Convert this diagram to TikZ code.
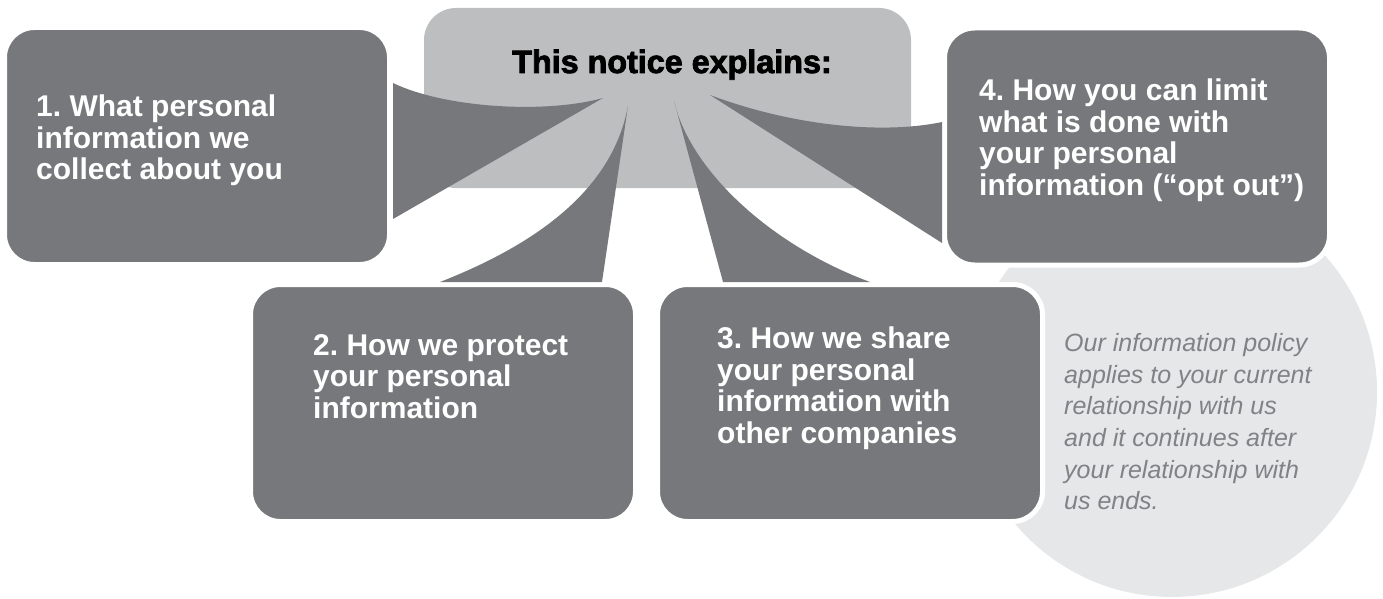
\documentclass[tikz,border=0pt]{standalone}
\usepackage{fontspec}
\setmainfont{Liberation Sans}
\newfontfamily\headfont[BoldFeatures={FakeBold=2.5}]{Liberation Sans}
\usetikzlibrary{calc}
\frenchspacing

\definecolor{boxgray}{HTML}{77787B}
\definecolor{headgray}{HTML}{BCBEC0}
\definecolor{notegray}{HTML}{E6E7E8}
\definecolor{notetext}{HTML}{818285}

\tikzset{
  infobox/.style={rectangle, rounded corners=30pt, fill=boxgray, draw=white,
    line width=5pt, minimum width=385pt, minimum height=237pt, inner sep=0pt},
  headbox/.style={rectangle, rounded corners=32pt, fill=headgray,
    minimum width=487pt, minimum height=180pt, inner sep=0pt},
  notedisc/.style={circle, fill=notegray, minimum size=410pt, inner sep=0pt},
  wedge/.style={fill=boxgray},
  boxtext/.style={font=\fontsize{30}{31.5}\selectfont\bfseries, text=white,
    align=left, inner sep=0pt, anchor=north west},
  notetextstyle/.style={font=\fontsize{25}{31.7}\selectfont\itshape,
    text=notetext, align=left, inner sep=0pt, anchor=north west},
}

\begin{document}
\begin{tikzpicture}[x=1pt, y=-1pt]
  \useasboundingbox (0,0) rectangle (1383,599);

  % background disc for the side note
  \node[notedisc] (note) at (1172,392) {};

  % heading panel
  \node[headbox] (head) at (667.5,98) {};
  \node[font={\headfont\fontsize{32.3}{32}\selectfont\bfseries}, anchor=base,
        inner sep=0pt] (headtext) at (672,73) {This notice explains:};

  % the four topic boxes
  \node[infobox] (box1) at (197,146) {};
  \node[infobox] (box4) at (1137,146.5) {};
  \node[infobox] (box2) at (443,403) {};
  \node[infobox] (box3) at (850,403) {};

  % tips of the fan-shaped connectors inside the heading panel
  \coordinate (tip1) at (603,98);
  \coordinate (tip2) at (628,106);
  \coordinate (tip3) at (674,101);
  \coordinate (tip4) at (710,95);

  % fan-shaped connectors
  \fill[wedge] ($(box1.east)+(1,-63)$) .. controls (445,108) and (545,114) .. (tip1)
     -- ($(box1.east)+(1,73)$) -- cycle;
  \fill[wedge] ($(box2.north)+(159,0)$) -- (tip2)
     .. controls (615,175) and (560,235) .. ($(box2.north)+(-3,0)$) -- cycle;
  \fill[wedge] ($(box3.north)+(-127,0)$) -- (tip3)
     .. controls (690,170) and (770,245) .. ($(box3.north)+(20,0)$) -- cycle;
  \fill[wedge] (tip4) .. controls (790,125) and (880,135) .. ($(box4.west)+(0,-24.5)$)
     -- ($(box4.west)+(0,96.5)$) -- cycle;

  % box texts
  \node[boxtext] (t1) at (36,95) {1. What personal\\information we\\collect about you};
  \node[boxtext] (t2) at (313,334) {2. How we protect\\your personal\\information};
  \node[boxtext] (t3) at (717,327) {3. How we share\\your personal\\information with\\other companies};
  \node[boxtext] (t4) at (979,79) {4. How you can limit\\what is done with\\your personal\\information (“opt out”)};

  % side note
  \node[notetextstyle] (notetext) at (1064,333) {Our information policy\\applies to your current\\relationship with us\\and it continues after\\your relationship with\\us ends.};
\end{tikzpicture}
\end{document}
